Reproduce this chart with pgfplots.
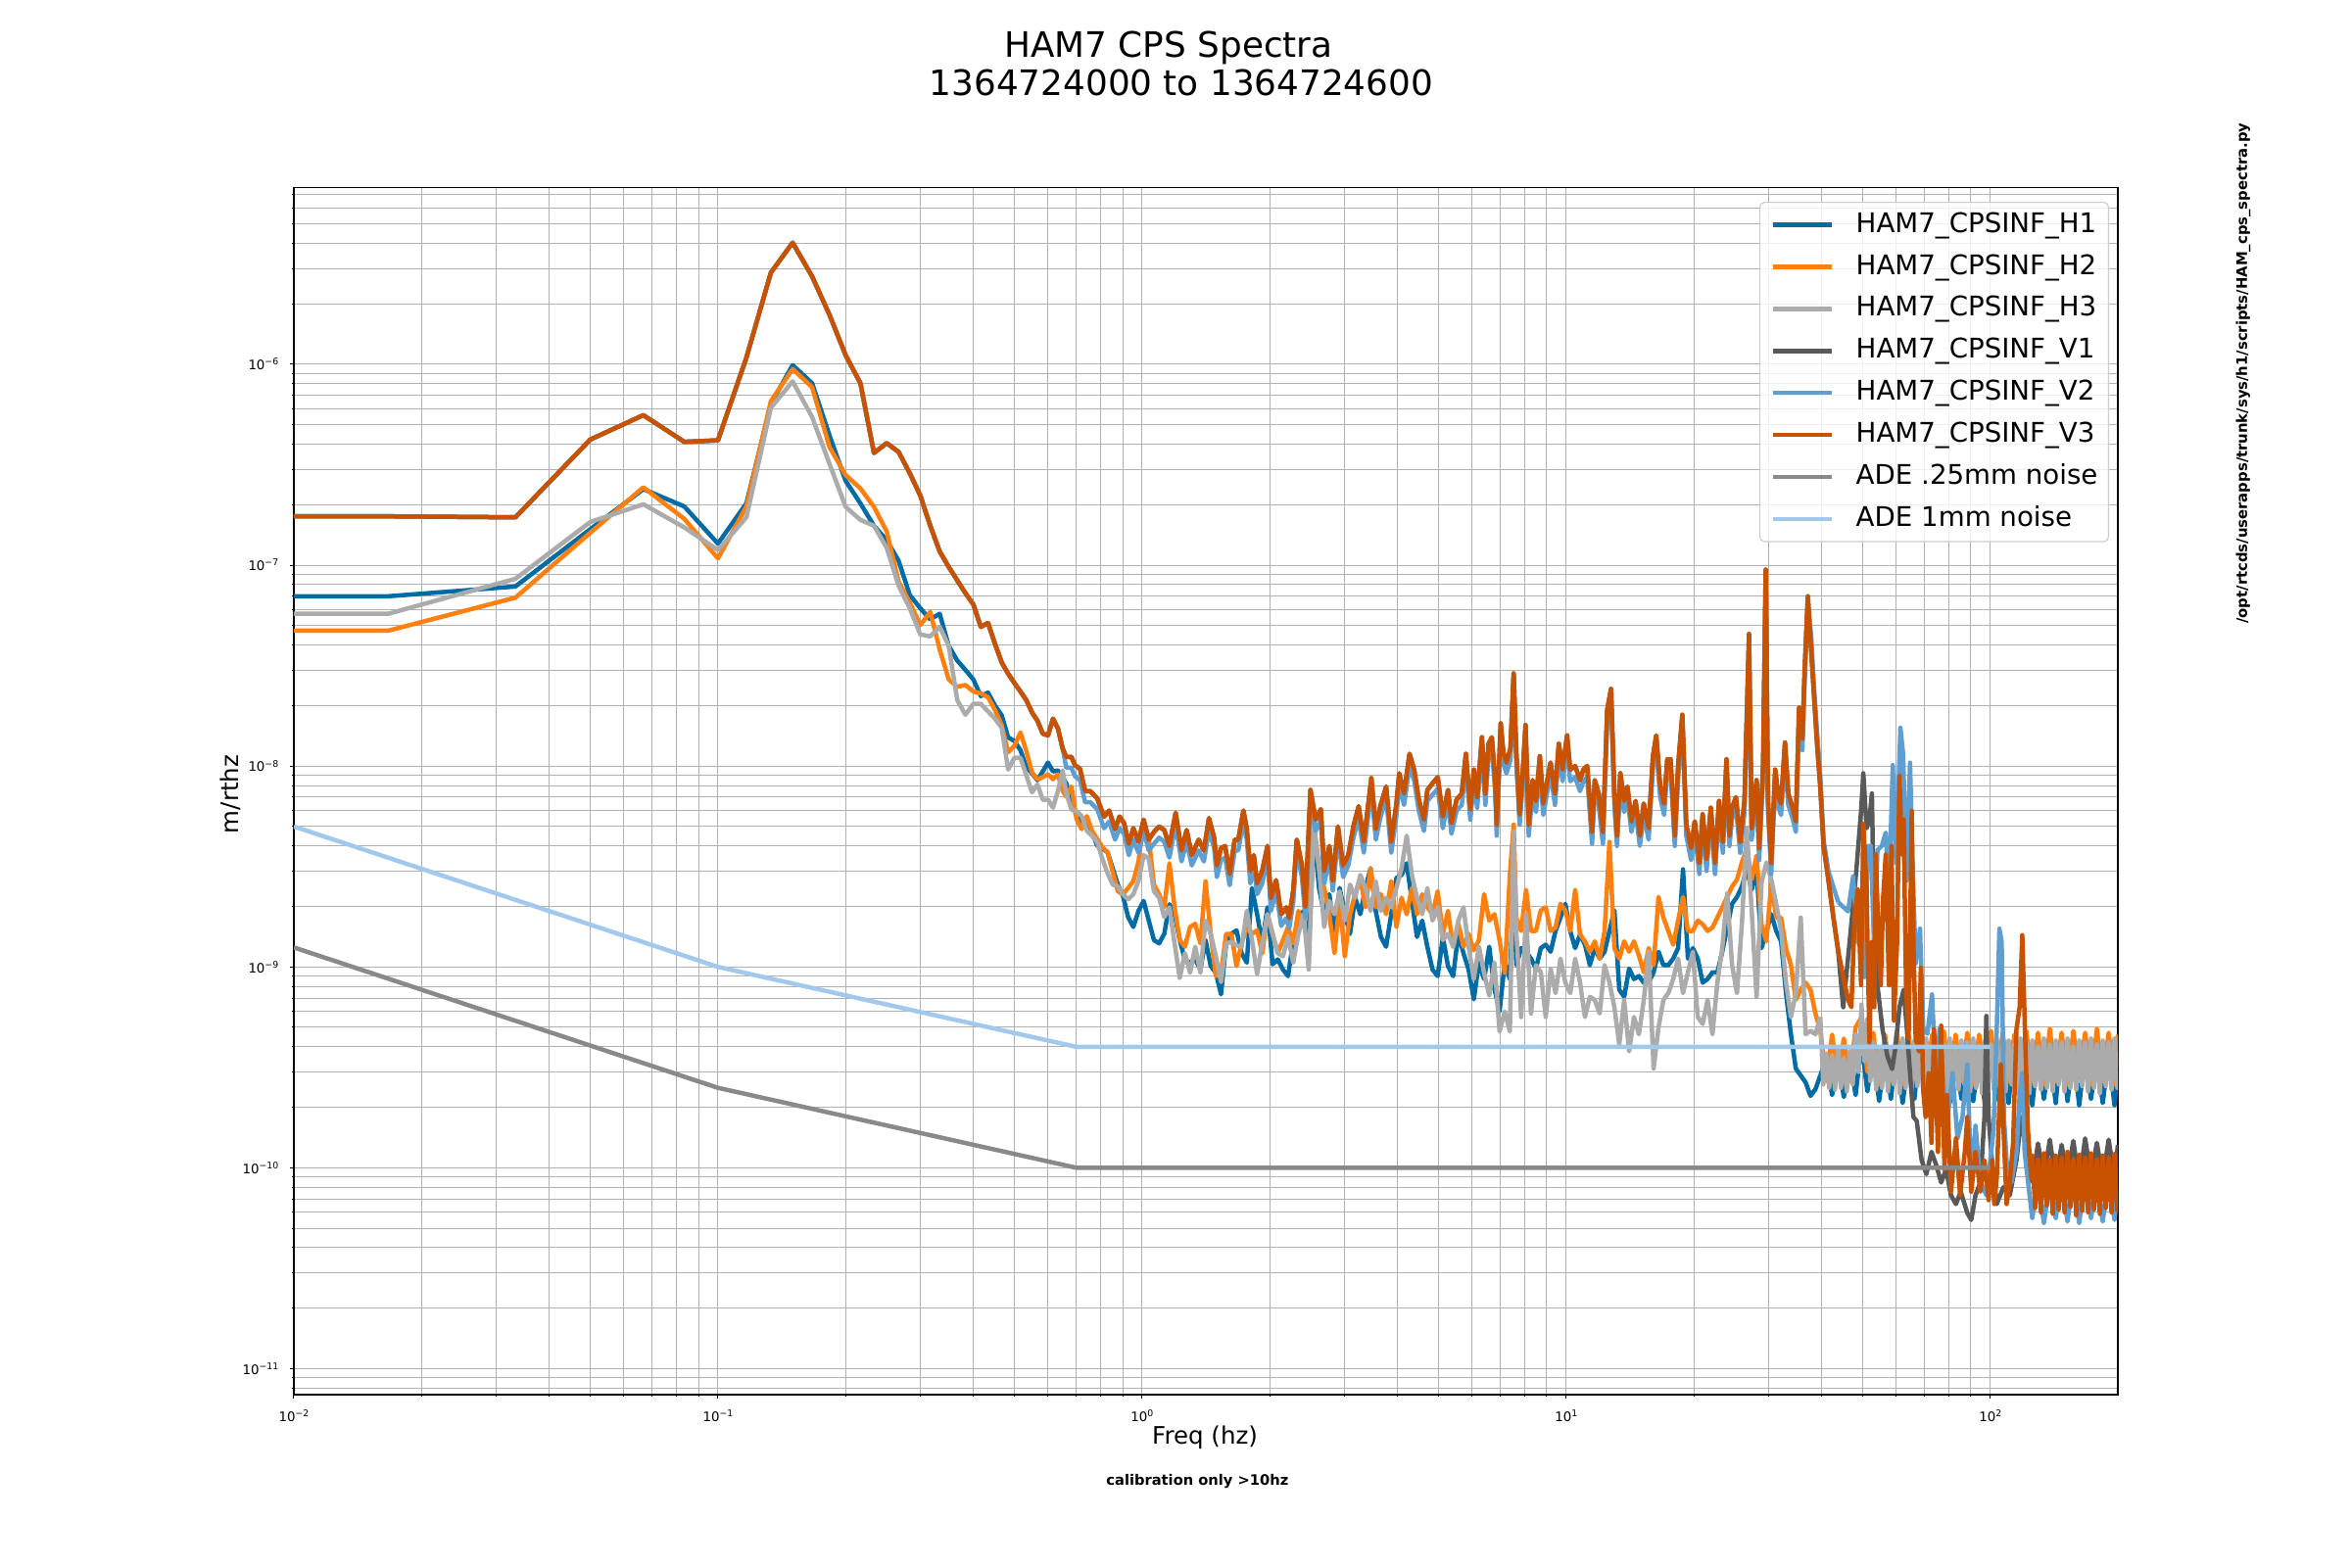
\documentclass[border=0pt]{standalone}
\usepackage{fontspec}
\setmainfont{DejaVu Sans}
\usepackage{pgfplots}
\usepackage{pgfplotstable}
\pgfplotsset{compat=1.18}
\definecolor{cHa}{HTML}{006BA4}
\definecolor{cHb}{HTML}{FF800E}
\definecolor{cHc}{HTML}{ABABAB}
\definecolor{cVa}{HTML}{595959}
\definecolor{cVb}{HTML}{5F9ED1}
\definecolor{cVc}{HTML}{C85200}
\definecolor{cAa}{HTML}{898989}
\definecolor{cAb}{HTML}{A2C8EC}
\definecolor{gridc}{HTML}{B0B0B0}
\definecolor{legc}{HTML}{CCCCCC}
\newcommand\explabel[1]{10\raisebox{1.45pt}{\fontsize{2.8}{3}\selectfont\ifnum#1<0 −\the\numexpr0-#1\relax\else\the\numexpr#1\relax\fi}}

% H1 H2 H3 (a b c), 0.01 - 39.75 Hz
\pgfplotstableread[row sep=\\]{
f a b c\\
0.01 7.0e-8 4.72e-8 5.73e-8\\ 0.0167 7.0e-8 4.72e-8 5.73e-8\\ 0.0333 7.83e-8 6.89e-8 8.55e-8\\ 0.05 1.51e-7 1.45e-7 1.64e-7\\
0.0667 2.39e-7 2.44e-7 2.01e-7\\ 0.0833 1.96e-7 1.70e-7 1.54e-7\\ 0.1 1.28e-7 1.08e-7 1.19e-7\\ 0.1167 2.03e-7 1.96e-7 1.73e-7\\
0.1333 6.35e-7 6.55e-7 6.08e-7\\ 0.15 9.9e-7 9.47e-7 8.22e-7\\ 0.1667 8.05e-7 7.7e-7 5.47e-7\\ 0.1833 4.41e-7 3.87e-7 3.19e-7\\
0.2 2.63e-7 2.81e-7 1.95e-7\\ 0.2167 2.03e-7 2.41e-7 1.68e-7\\ 0.2333 1.57e-7 1.95e-7 1.57e-7\\ 0.25 1.33e-7 1.47e-7 1.22e-7\\
0.2667 1.05e-7 8.26e-8 7.9e-8\\ 0.2833 7.1e-8 6.52e-8 6.1e-8\\ 0.3 6.1e-8 5.03e-8 4.52e-8\\ 0.3167 5.37e-8 5.85e-8 4.42e-8\\
0.3333 5.73e-8 3.81e-8 4.93e-8\\ 0.35 3.97e-8 2.70e-8 3.97e-8\\ 0.3667 3.35e-8 2.48e-8 2.13e-8\\ 0.3833 3.01e-8 2.53e-8 1.80e-8\\
0.4 2.70e-8 2.35e-8 2.04e-8\\ 0.4167 2.23e-8 2.3e-8 2.04e-8\\ 0.4333 2.32e-8 2.2e-8 1.87e-8\\ 0.45 2.0e-8 1.9e-8 1.72e-8\\
0.4667 1.79e-8 1.6e-8 1.55e-8\\ 0.4833 1.39e-8 1.17e-8 9.6e-9\\ 0.5 1.33e-8 1.26e-8 1.10e-8\\ 0.5167 1.2e-8 1.47e-8 1.1e-8\\
0.5333 9.9e-9 1.19e-8 9.0e-9\\ 0.55 9.2e-9 9.3e-9 7.4e-9\\ 0.5667 8.5e-9 8.6e-9 8.1e-9\\ 0.5833 9.4e-9 8.8e-9 6.8e-9\\
0.6 1.04e-8 9.1e-9 6.8e-9\\ 0.6167 9.4e-9 8.6e-9 6.2e-9\\ 0.6333 9.5e-9 9.1e-9 7.5e-9\\ 0.65 8.8e-9 7.5e-9 9.5e-9\\
0.6627 8.19e-9 7.05e-9 7.32e-9\\ 0.6815 6.8e-9 7.9e-9 6.07e-9\\ 0.7008 5.63e-9 5.43e-9 5.96e-9\\ 0.7207 5.23e-9 4.85e-9 5.63e-9\\
0.7412 5.04e-9 5.63e-9 4.76e-9\\ 0.7622 4.67e-9 4.76e-9 4.5e-9\\ 0.7838 4.02e-9 4.34e-9 4.18e-9\\ 0.806 3.88e-9 3.95e-9 3.46e-9\\
0.8289 3.73e-9 3.73e-9 2.93e-9\\ 0.8525 3.1e-9 2.98e-9 2.57e-9\\ 0.8768 2.57e-9 2.38e-9 2.52e-9\\ 0.9017 2.25e-9 2.3e-9 2.3e-9\\
0.9273 1.77e-9 2.47e-9 2.17e-9\\ 0.9537 1.58e-9 2.67e-9 2.3e-9\\ 0.9808 1.9e-9 3.34e-9 2.67e-9\\ 1.0086 2.13e-9 5.23e-9 3.6e-9\\
1.0373 1.7e-9 4.34e-9 3.46e-9\\ 1.0667 1.36e-9 2.57e-9 2.38e-9\\ 1.097 1.31e-9 2.3e-9 2.21e-9\\ 1.1282 1.46e-9 1.98e-9 1.77e-9\\
1.1602 2.05e-9 3.28e-9 1.98e-9\\ 1.1932 1.83e-9 1.98e-9 1.31e-9\\ 1.2271 1.36e-9 1.36e-9 8.8e-10\\ 1.2619 1.09e-9 1.26e-9 1.17e-9\\
1.2978 1.05e-9 1.58e-9 9.35e-10\\ 1.3346 1.09e-9 1.64e-9 1.26e-9\\ 1.3726 9.7e-10 1.31e-9 9.35e-10\\ 1.4115 1.36e-9 2.67e-9 1.7e-9\\
1.4516 1.01e-9 1.46e-9 1.46e-9\\ 1.4929 9.35e-10 9.0e-10 1.13e-9\\ 1.5353 7.3e-10 9.35e-10 8.4e-10\\ 1.5789 1.31e-9 1.46e-9 1.31e-9\\
1.6238 1.46e-9 1.46e-9 1.33e-9\\ 1.6699 1.52e-9 1.01e-9 1.28e-9\\ 1.7173 1.17e-9 1.31e-9 1.26e-9\\ 1.7661 1.05e-9 1.58e-9 1.9e-9\\
1.8162 2.47e-9 1.46e-9 1.36e-9\\ 1.8678 1.83e-9 1.52e-9 9.2e-10\\ 1.9209 1.31e-9 1.17e-9 1.31e-9\\ 1.9754 1.98e-9 1.83e-9 1.83e-9\\
2.0316 1.03e-9 1.46e-9 1.46e-9\\ 2.0893 1.09e-9 1.17e-9 1.17e-9\\ 2.1486 9.7e-10 1.36e-9 1.13e-9\\ 2.2097 9.0e-10 1.58e-9 1.41e-9\\
2.2724 1.36e-9 1.31e-9 1.05e-9\\ 2.337 1.7e-9 1.9e-9 1.46e-9\\ 2.4033 1.9e-9 1.58e-9 1.83e-9\\ 2.4716 1.26e-9 2.21e-9 9.7e-10\\
2.5418 4.67e-9 5.23e-9 5.04e-9\\ 2.614 2.47e-9 3.1e-9 3.1e-9\\ 2.6882 1.83e-9 2.47e-9 1.58e-9\\ 2.7646 2.3e-9 1.83e-9 2.13e-9\\
2.8431 1.46e-9 1.17e-9 1.83e-9\\ 2.9239 2.47e-9 2.13e-9 2.38e-9\\ 3.0069 1.83e-9 1.13e-9 1.7e-9\\ 3.0923 1.46e-9 1.83e-9 2.57e-9\\
3.1801 2.21e-9 2.3e-9 2.21e-9\\ 3.2704 1.83e-9 2.77e-9 2.87e-9\\ 3.3633 2.47e-9 1.98e-9 2.47e-9\\ 3.4589 3.1e-9 3.1e-9 1.9e-9\\
3.5571 1.9e-9 1.98e-9 2.67e-9\\ 3.6581 1.41e-9 2.3e-9 1.9e-9\\ 3.7621 1.26e-9 1.83e-9 2.21e-9\\ 3.8689 1.83e-9 2.67e-9 1.98e-9\\
3.9788 2.77e-9 1.58e-9 2.47e-9\\ 4.0918 2.87e-9 2.21e-9 3.1e-9\\ 4.208 3.28e-9 1.83e-9 4.5e-9\\ 4.3275 2.13e-9 2.47e-9 2.87e-9\\
4.4504 1.41e-9 1.83e-9 2.21e-9\\ 4.5768 1.7e-9 2.3e-9 1.83e-9\\ 4.7068 1.26e-9 1.98e-9 2.47e-9\\ 4.8405 9.7e-10 1.83e-9 1.7e-9\\
4.978 9.0e-10 2.38e-9 1.98e-9\\ 5.1194 1.41e-9 1.46e-9 1.36e-9\\ 5.2648 1.01e-9 1.9e-9 1.46e-9\\ 5.4143 9.0e-10 1.26e-9 1.26e-9\\
5.5681 1.46e-9 1.64e-9 1.7e-9\\ 5.7262 1.17e-9 1.26e-9 1.98e-9\\ 5.8889 9.7e-10 1.46e-9 1.26e-9\\ 6.0561 6.9e-10 1.21e-9 8.7e-10\\
6.2281 1.05e-9 1.36e-9 1.26e-9\\ 6.405 8.7e-10 2.3e-9 9.35e-10\\ 6.5869 1.26e-9 1.7e-9 7.2e-10\\ 6.774 7.8e-10 1.83e-9 1.05e-9\\
6.9664 6.0e-10 1.36e-9 4.77e-10\\ 7.1642 1.05e-9 9.35e-10 6.0e-10\\ 7.3677 8.7e-10 2.87e-9 4.77e-10\\ 7.52 2.72e-9 5.11e-9 4.72e-9\\
7.63 1.02e-9 1.76e-9 1.51e-9\\ 7.834 1.24e-9 1.51e-9 5.63e-10\\ 8.045 1.19e-9 2.42e-9 1.83e-9\\ 8.262 1.10e-9 1.51e-9 5.86e-10\\
8.486 9.8e-10 1.51e-9 1.02e-9\\ 8.715 1.24e-9 1.91e-9 9.4e-10\\ 8.95 1.29e-9 1.98e-9 5.63e-10\\ 9.192 1.19e-9 1.51e-9 9.8e-10\\
9.44 1.51e-9 1.57e-9 7.4e-10\\ 9.695 1.76e-9 2.06e-9 1.10e-9\\ 9.957 2.06e-9 1.91e-9 8.35e-10\\ 10.225 1.51e-9 1.51e-9 7.4e-10\\
10.501 1.24e-9 2.42e-9 1.10e-9\\ 10.784 1.45e-9 1.45e-9 8.35e-10\\ 11.075 1.29e-9 1.34e-9 5.63e-10\\ 11.374 1.02e-9 1.19e-9 7.1e-10\\
11.681 1.24e-9 1.34e-9 6.85e-10\\ 11.996 1.10e-9 1.10e-9 5.86e-10\\ 12.32 1.19e-9 1.51e-9 1.02e-9\\ 12.652 1.51e-9 4.19e-9 8.35e-10\\
12.994 1.91e-9 1.24e-9 6.3e-10\\ 13.344 7.7e-10 1.10e-9 4.11e-10\\ 13.704 7.1e-10 1.34e-9 6.85e-10\\ 14.074 9.8e-10 1.19e-9 3.8e-10\\
14.454 8.7e-10 1.34e-9 5.63e-10\\ 14.844 9.0e-10 1.14e-9 4.62e-10\\ 15.244 8.35e-10 9.4e-10 6.85e-10\\ 15.656 8.35e-10 1.24e-9 1.19e-9\\
16.078 9.4e-10 1.02e-9 3.12e-10\\ 16.512 1.19e-9 2.23e-9 5.0e-10\\ 16.957 1.02e-9 1.76e-9 6.85e-10\\ 17.415 1.02e-9 1.51e-9 7.4e-10\\
17.885 1.10e-9 1.29e-9 8.7e-10\\ 18.367 1.24e-9 1.70e-9 1.10e-9\\ 18.863 3.06e-9 2.23e-9 7.4e-10\\ 19.372 1.10e-9 1.51e-9 9.4e-10\\
19.894 1.24e-9 1.51e-9 1.19e-9\\ 20.431 1.10e-9 1.70e-9 5.63e-10\\ 20.983 8.35e-10 1.63e-9 5.2e-10\\ 21.549 8.7e-10 1.51e-9 6.85e-10\\
22.13 9.4e-10 1.57e-9 4.62e-10\\ 22.727 9.4e-10 1.76e-9 8.35e-10\\ 23.34 1.19e-9 1.98e-9 1.24e-9\\ 23.97 1.57e-9 2.23e-9 2.32e-9\\
24.617 2.06e-9 2.51e-9 1.02e-9\\ 25.281 2.23e-9 2.72e-9 7.4e-10\\ 25.963 2.51e-9 3.31e-9 1.63e-9\\ 26.664 3.06e-9 3.88e-9 4.91e-9\\
27.383 2.42e-9 2.72e-9 1.91e-9\\ 28.122 3.06e-9 3.58e-9 7.1e-10\\ 28.881 1.24e-9 1.63e-9 2.62e-9\\ 29.66 1.51e-9 1.34e-9 3.31e-9\\
30.461 1.83e-9 2.62e-9 2.72e-9\\ 31.283 1.51e-9 1.76e-9 2.06e-9\\ 32.127 1.34e-9 1.76e-9 1.51e-9\\ 32.994 7.4e-10 1.24e-9 8.35e-10\\
33.884 4.62e-10 1.02e-9 5.63e-10\\ 34.798 3.12e-10 6.85e-10 7.4e-10\\ 35.737 2.88e-10 7.7e-10 1.76e-9\\ 36.702 2.66e-10 8.35e-10 4.62e-10\\
37.692 2.28e-10 7.7e-10 4.81e-10\\ 38.709 2.46e-10 5.86e-10 4.62e-10\\ 39.754 2.88e-10 4.81e-10 5.63e-10\\
}\Hmain

% H1, 39.75 - 200 Hz
\pgfplotstableread[row sep=\\]{
f v\\
39.754 2.88e-10\\ 41.04 3.5e-10\\ 42.37 2.3e-10\\ 43.75 3.4e-10\\ 45.16 2.25e-10\\ 46.63 3.6e-10\\ 48.14 2.3e-10\\ 49.70 4.2e-10\\
51.32 2.4e-10\\ 52.98 3.8e-10\\ 54.70 2.15e-10\\ 56.47 3.7e-10\\ 58.30 2.2e-10\\ 60.20 3.9e-10\\ 62.15 2.1e-10\\ 64.17 3.6e-10\\
66.25 2.2e-10\\ 68.40 4.4e-10\\ 70.62 2.15e-10\\ 72.91 3.7e-10\\ 75.28 2.2e-10\\ 77.72 3.8e-10\\ 80.24 2.1e-10\\ 82.84 3.6e-10\\
85.53 2.2e-10\\ 88.31 4.5e-10\\ 91.17 2.15e-10\\ 94.13 3.7e-10\\ 97.18 2.05e-10\\ 100.39 3.8e-10\\ 103.6 2.2e-10\\ 107.0 3.6e-10\\
110.5 2.1e-10\\ 114.0 4.4e-10\\ 117.8 2.15e-10\\ 121.6 3.7e-10\\ 125.6 2.05e-10\\ 129.6 3.8e-10\\ 133.8 2.2e-10\\ 138.2 3.6e-10\\
142.7 2.1e-10\\ 147.3 4.5e-10\\ 152.1 2.15e-10\\ 157.0 3.7e-10\\ 162.1 2.05e-10\\ 167.4 3.8e-10\\ 172.8 2.2e-10\\ 178.4 3.6e-10\\
184.2 2.1e-10\\ 190.2 3.7e-10\\ 196.3 2.05e-10\\ 200 3.0e-10\\
}\Haband

% H2, 39.75 - 200 Hz
\pgfplotstableread[row sep=\\]{
f v\\
39.754 4.81e-10\\ 41.04 2.7e-10\\ 42.37 4.6e-10\\ 43.75 2.8e-10\\ 45.16 4.4e-10\\ 46.63 2.7e-10\\ 48.14 5.0e-10\\ 49.70 5.6e-10\\
51.32 3.0e-10\\ 52.98 4.7e-10\\ 54.70 2.6e-10\\ 56.47 4.6e-10\\ 58.30 2.7e-10\\ 60.20 4.8e-10\\ 62.15 2.6e-10\\ 64.17 4.6e-10\\
66.25 2.8e-10\\ 68.40 4.7e-10\\ 70.62 2.5e-10\\ 72.91 4.6e-10\\ 75.28 2.7e-10\\ 77.72 4.8e-10\\ 80.24 2.6e-10\\ 82.84 4.6e-10\\
85.53 2.7e-10\\ 88.31 4.7e-10\\ 91.17 2.6e-10\\ 94.13 4.6e-10\\ 97.18 2.8e-10\\ 100.39 4.8e-10\\ 103.6 2.6e-10\\ 107.0 4.7e-10\\
110.5 2.7e-10\\ 114.0 4.6e-10\\ 117.8 2.6e-10\\ 121.6 4.8e-10\\ 125.6 2.7e-10\\ 129.6 4.7e-10\\ 133.8 2.6e-10\\ 138.2 4.9e-10\\
142.7 2.7e-10\\ 147.3 4.7e-10\\ 152.1 2.6e-10\\ 157.0 4.8e-10\\ 162.1 2.8e-10\\ 167.4 4.7e-10\\ 172.8 2.6e-10\\ 178.4 4.9e-10\\
184.2 2.7e-10\\ 190.2 4.7e-10\\ 196.3 2.6e-10\\ 200 4.6e-10\\
}\Hbband

% H3, 39.75 - 200 Hz
\pgfplotstableread[row sep=\\]{
f v\\
39.754 5.63e-10\\ 40.39 2.6e-10\\ 41.04 3.7e-10\\ 41.70 2.5e-10\\ 42.37 3.6e-10\\ 43.05 2.45e-10\\ 43.75 3.9e-10\\ 44.45 2.5e-10\\
45.16 3.5e-10\\ 45.89 2.4e-10\\ 46.63 3.8e-10\\ 47.38 2.6e-10\\ 48.14 4.6e-10\\ 48.92 3.0e-10\\ 49.70 6.5e-10\\ 50.50 3.4e-10\\
51.32 5.5e-10\\ 52.14 2.7e-10\\ 52.98 4.2e-10\\ 53.83 2.45e-10\\ 54.70 4.0e-10\\ 55.58 2.5e-10\\ 56.47 4.3e-10\\ 57.38 2.4e-10\\
58.30 3.9e-10\\ 59.24 2.6e-10\\ 60.20 4.2e-10\\ 61.16 2.35e-10\\ 62.15 4.4e-10\\ 63.15 2.5e-10\\ 64.17 4.0e-10\\ 65.20 2.4e-10\\
66.25 4.3e-10\\ 67.31 2.55e-10\\ 68.40 4.1e-10\\ 69.50 2.4e-10\\ 70.62 4.4e-10\\ 71.75 2.5e-10\\ 72.91 4.0e-10\\ 74.08 2.35e-10\\
75.28 4.3e-10\\ 76.49 2.55e-10\\ 77.72 4.1e-10\\ 78.97 2.4e-10\\ 80.24 4.4e-10\\ 81.53 2.5e-10\\ 82.84 4.0e-10\\ 84.18 2.45e-10\\
85.53 4.3e-10\\ 86.91 2.6e-10\\ 88.31 4.2e-10\\ 89.73 2.4e-10\\ 91.17 4.4e-10\\ 92.64 2.5e-10\\ 94.13 4.0e-10\\ 95.64 2.35e-10\\
97.18 4.3e-10\\ 98.80 2.55e-10\\ 100.39 4.1e-10\\ 102.0 2.45e-10\\ 103.6 4.4e-10\\ 105.3 2.5e-10\\ 107.0 4.0e-10\\ 108.7 2.4e-10\\
110.5 4.3e-10\\ 112.3 2.6e-10\\ 114.0 4.1e-10\\ 115.9 2.4e-10\\ 117.8 4.4e-10\\ 119.7 2.5e-10\\ 121.6 4.2e-10\\ 123.6 2.35e-10\\
125.6 4.3e-10\\ 127.6 2.55e-10\\ 129.6 4.0e-10\\ 131.7 2.45e-10\\ 133.8 4.4e-10\\ 136.0 2.5e-10\\ 138.2 4.1e-10\\ 140.4 2.4e-10\\
142.7 4.3e-10\\ 145.0 2.6e-10\\ 147.3 4.2e-10\\ 149.7 2.4e-10\\ 152.1 4.4e-10\\ 154.5 2.5e-10\\ 157.0 4.0e-10\\ 159.5 2.45e-10\\
162.1 4.3e-10\\ 164.7 2.55e-10\\ 167.4 4.2e-10\\ 170.1 2.4e-10\\ 172.8 4.4e-10\\ 175.6 2.5e-10\\ 178.4 4.1e-10\\ 181.3 2.35e-10\\
184.2 4.3e-10\\ 187.2 2.55e-10\\ 190.2 4.2e-10\\ 193.2 2.45e-10\\ 196.3 4.4e-10\\ 199.5 2.5e-10\\ 200 3.8e-10\\
}\Hcband

% V2 (b) and V3 (c), 0.01 - 43.8 Hz; V1 coincides with V3 here
\pgfplotstableread[row sep=\\]{
f b c\\
0.01 1.75e-7 1.75e-7\\ 0.0167 1.75e-7 1.75e-7\\ 0.0333 1.73e-7 1.73e-7\\ 0.05 4.22e-7 4.22e-7\\ 0.0667 5.58e-7 5.58e-7\\
0.0833 4.11e-7 4.11e-7\\ 0.1 4.18e-7 4.18e-7\\ 0.1167 1.08e-6 1.08e-6\\ 0.1333 2.86e-6 2.86e-6\\ 0.15 4.03e-6 4.03e-6\\
0.1667 2.74e-6 2.74e-6\\ 0.1833 1.76e-6 1.76e-6\\ 0.2 1.11e-6 1.11e-6\\ 0.2167 8.05e-7 8.05e-7\\ 0.2333 3.62e-7 3.62e-7\\
0.25 4.05e-7 4.05e-7\\ 0.2667 3.66e-7 3.66e-7\\ 0.2833 2.87e-7 2.87e-7\\ 0.3 2.22e-7 2.22e-7\\ 0.3167 1.57e-7 1.57e-7\\
0.3333 1.17e-7 1.17e-7\\ 0.35 9.8e-8 9.8e-8\\ 0.3667 8.4e-8 8.4e-8\\ 0.3833 7.26e-8 7.26e-8\\ 0.4 6.38e-8 6.38e-8\\
0.4167 4.93e-8 4.93e-8\\ 0.4333 5.15e-8 5.15e-8\\ 0.45 4.06e-8 4.06e-8\\ 0.4667 3.28e-8 3.28e-8\\ 0.4833 2.88e-8 2.88e-8\\
0.5 2.59e-8 2.59e-8\\ 0.5167 2.35e-8 2.35e-8\\ 0.5333 2.13e-8 2.13e-8\\ 0.55 1.85e-8 1.85e-8\\ 0.5667 1.68e-8 1.68e-8\\
0.5833 1.45e-8 1.45e-8\\ 0.6 1.42e-8 1.42e-8\\ 0.6167 1.72e-8 1.72e-8\\ 0.6333 1.54e-8 1.54e-8\\ 0.65 1.22e-8 1.22e-8\\
0.6626 9.8e-9 1.11e-8\\ 0.6816 9.8e-9 1.11e-8\\ 0.6945 8.9e-9 1.01e-8\\ 0.7139 8.5e-9 9.7e-9\\ 0.7342 6.6e-9 7.5e-9\\
0.7551 6.6e-9 7.5e-9\\ 0.784 6.1e-9 6.9e-9\\ 0.8136 4.9e-9 5.6e-9\\ 0.8368 5.3e-9 6.0e-9\\ 0.8638 4.3e-9 4.85e-9\\
0.885 4.9e-9 5.6e-9\\ 0.9068 4.6e-9 5.2e-9\\ 0.9308 3.6e-9 4.1e-9\\ 0.9537 4.3e-9 4.9e-9\\ 0.9808 3.7e-9 4.2e-9\\
1.0086 4.75e-9 5.4e-9\\ 1.037 3.8e-9 4.3e-9\\ 1.067 4.1e-9 4.7e-9\\ 1.097 4.4e-9 5.0e-9\\ 1.128 4.2e-9 4.8e-9\\
1.16 3.5e-9 4.0e-9\\ 1.2 5.1e-9 5.85e-9\\ 1.239 3.35e-9 3.8e-9\\ 1.274 4.2e-9 4.8e-9\\ 1.31 3.2e-9 3.6e-9\\
1.36 3.8e-9 4.3e-9\\ 1.399 3.35e-9 3.8e-9\\ 1.438 4.8e-9 5.5e-9\\ 1.479 3.9e-9 4.4e-9\\ 1.501 2.8e-9 3.2e-9\\
1.535 3.4e-9 3.9e-9\\ 1.57 3.5e-9 4.0e-9\\ 1.609 2.55e-9 2.9e-9\\ 1.654 3.8e-9 4.3e-9\\ 1.686 3.8e-9 4.3e-9\\
1.734 5.3e-9 6.0e-9\\ 1.766 4.3e-9 4.85e-9\\ 1.8 2.6e-9 3.0e-9\\ 1.834 3.2e-9 3.6e-9\\ 1.868 2.3e-9 2.6e-9\\
1.92 2.6e-9 3.0e-9\\ 1.976 3.5e-9 4.0e-9\\ 2.013 1.9e-9 2.2e-9\\ 2.07 2.4e-9 2.7e-9\\ 2.129 1.6e-9 1.83e-9\\
2.189 1.75e-9 1.98e-9\\ 2.223 1.55e-9 1.75e-9\\ 2.273 2.1e-9 2.4e-9\\ 2.316 3.8e-9 4.3e-9\\ 2.382 2.8e-9 3.2e-9\\
2.427 1.75e-9 2.0e-9\\ 2.495 6.7e-9 7.6e-9\\ 2.566 4.75e-9 5.4e-9\\ 2.639 5.4e-9 6.1e-9\\ 2.689 2.6e-9 3.0e-9\\
2.765 3.5e-9 4.0e-9\\ 2.817 2.4e-9 2.7e-9\\ 2.897 4.4e-9 5.0e-9\\ 2.979 2.8e-9 3.2e-9\\ 3.064 3.2e-9 3.6e-9\\
3.151 4.4e-9 5.0e-9\\ 3.241 5.5e-9 6.3e-9\\ 3.333 3.7e-9 4.2e-9\\ 3.396 5.1e-9 5.85e-9\\ 3.473 7.7e-9 8.7e-9\\
3.558 4.3e-9 4.85e-9\\ 3.646 5.5e-9 6.3e-9\\ 3.763 7.0e-9 7.9e-9\\ 3.87 3.7e-9 4.2e-9\\ 3.98 5.7e-9 6.5e-9\\
4.04 8.1e-9 9.2e-9\\ 4.147 6.4e-9 7.3e-9\\ 4.273 1.0e-8 1.15e-8\\ 4.385 8.4e-9 9.5e-9\\ 4.493 6.0e-9 6.8e-9\\
4.62 4.75e-9 5.4e-9\\ 4.708 6.7e-9 7.6e-9\\ 4.842 7.2e-9 8.2e-9\\ 4.979 7.7e-9 8.8e-9\\ 5.12 4.9e-9 5.6e-9\\
5.266 6.7e-9 7.6e-9\\ 5.365 4.6e-9 5.2e-9\\ 5.517 6.0e-9 6.8e-9\\ 5.673 6.4e-9 7.3e-9\\ 5.802 1.0e-8 1.15e-8\\
5.944 5.4e-9 6.1e-9\\ 6.06 8.4e-9 9.6e-9\\ 6.17 6.2e-9 7.0e-9\\ 6.33 1.22e-8 1.39e-8\\ 6.45 6.4e-9 7.3e-9\\
6.56 1.14e-8 1.29e-8\\ 6.68 1.22e-8 1.39e-8\\ 6.8 7.5e-9 8.5e-9\\ 6.86 4.5e-9 5.1e-9\\ 7.01 1.43e-8 1.63e-8\\
7.11 1.03e-8 1.17e-8\\ 7.23 9.2e-9 1.04e-8\\ 7.39 1.07e-8 1.22e-8\\ 7.52 2.54e-8 2.89e-8\\ 7.63 1.03e-8 1.17e-8\\
7.77 5.1e-9 5.75e-9\\ 7.9 8.1e-9 9.2e-9\\ 8.02 1.41e-8 1.6e-8\\ 8.16 4.5e-9 5.1e-9\\ 8.34 7.5e-9 8.5e-9\\
8.49 5.9e-9 6.7e-9\\ 8.67 9.9e-9 1.12e-8\\ 8.83 5.7e-9 6.5e-9\\ 9.03 7.5e-9 8.5e-9\\ 9.19 9.2e-9 1.04e-8\\
9.41 6.4e-9 7.3e-9\\ 9.61 1.14e-8 1.29e-8\\ 9.81 8.4e-9 9.6e-9\\ 10.05 1.25e-8 1.42e-8\\ 10.22 8.4e-9 9.6e-9\\
10.5 8.8e-9 1.0e-8\\ 10.78 7.5e-9 8.5e-9\\ 10.98 8.4e-9 9.6e-9\\ 11.21 8.8e-9 1.0e-8\\ 11.51 4.1e-9 4.7e-9\\
11.68 7.5e-9 8.5e-9\\ 11.93 6.4e-9 7.3e-9\\ 12.21 4.1e-9 4.7e-9\\ 12.5 1.68e-8 1.91e-8\\ 12.76 2.13e-8 2.42e-8\\
12.99 6.4e-9 7.3e-9\\ 13.18 4.0e-9 4.5e-9\\ 13.42 8.1e-9 9.2e-9\\ 13.7 5.9e-9 6.7e-9\\ 13.95 7.0e-9 7.9e-9\\
14.25 4.7e-9 5.3e-9\\ 14.58 5.9e-9 6.7e-9\\ 14.92 4.0e-9 4.5e-9\\ 15.24 5.7e-9 6.5e-9\\ 15.65 4.3e-9 4.9e-9\\
16.02 9.9e-9 1.12e-8\\ 16.31 1.25e-8 1.42e-8\\ 16.66 7.0e-9 7.9e-9\\ 17.02 5.7e-9 6.5e-9\\ 17.32 9.5e-9 1.08e-8\\
17.63 9.5e-9 1.08e-8\\ 18.04 4.0e-9 4.5e-9\\ 18.37 8.8e-9 1.0e-8\\ 18.79 1.58e-8 1.8e-8\\ 19.2 4.5e-9 5.1e-9\\
19.71 3.4e-9 3.9e-9\\ 20.1 4.7e-9 5.3e-9\\ 20.61 2.9e-9 3.3e-9\\ 20.98 5.1e-9 5.75e-9\\ 21.43 3.0e-9 3.45e-9\\
21.93 5.5e-9 6.2e-9\\ 22.44 2.9e-9 3.3e-9\\ 22.93 5.9e-9 6.7e-9\\ 23.42 3.7e-9 4.2e-9\\ 23.88 9.5e-9 1.08e-8\\
24.27 4.0e-9 4.5e-9\\ 24.61 5.5e-9 6.2e-9\\ 25.14 6.2e-9 7.0e-9\\ 25.73 3.7e-9 4.2e-9\\ 26.33 5.9e-9 6.7e-9\\
26.99 4.0e-8 4.54e-8\\ 27.38 4.3e-9 4.9e-9\\ 28.12 7.5e-9 8.5e-9\\ 28.52 3.4e-9 3.9e-9\\ 29.13 8.8e-9 1.0e-8\\
29.55 8.4e-8 9.5e-8\\ 29.92 5.9e-9 6.7e-9\\ 30.45 2.9e-9 3.3e-9\\ 31.11 8.4e-9 9.6e-9\\ 31.67 6.2e-9 7.0e-9\\
32.12 5.7e-9 6.5e-9\\ 32.81 1.15e-8 1.31e-8\\ 33.4 6.4e-9 7.3e-9\\ 34.19 5.5e-9 6.2e-9\\ 34.8 4.7e-9 5.3e-9\\
35.42 1.72e-8 1.95e-8\\ 36.06 1.2e-8 1.37e-8\\ 36.51 2.64e-8 3.0e-8\\ 37.15 6.2e-8 7.0e-8\\ 37.82 4.5e-8 3.8e-8\\
38.36 2.6e-8 2.37e-8\\ 39.04 1.5e-8 1.31e-8\\ 39.74 9.0e-9 7.9e-9\\ 40.46 4.3e-9 4.0e-9\\ 41.54 3.0e-9 2.7e-9\\
42.67 2.5e-9 1.77e-9\\ 43.82 2.1e-9 1.19e-9\\
}\Vmain

% V1, 43.8 - 200 Hz
\pgfplotstableread[row sep=\\]{
f v\\
43.82 1.19e-9\\ 45.0 6.3e-10\\ 46.6 1.33e-9\\ 48.3 2.97e-9\\ 49.6 5.98e-9\\ 50.2 9.2e-9\\ 51.1 4.9e-9\\ 51.9 5.42e-9\\
52.6 7.3e-9\\ 53.3 1.33e-9\\ 54.2 8.1e-10\\ 55.7 4.9e-10\\ 57.2 3.6e-10\\ 58.7 3.1e-10\\ 59.8 4.0e-10\\ 61.1 6.3e-10\\
62.5 7.7e-10\\ 63.6 4.9e-10\\ 64.7 2.96e-10\\ 65.9 1.79e-10\\ 67.1 1.71e-10\\ 68.9 1.09e-10\\ 70.7 9.3e-11\\ 72.7 1.2e-10\\
74.6 1.03e-10\\ 76.6 8.45e-11\\ 78.7 9.8e-11\\ 80.8 7.3e-11\\ 83.0 6.6e-11\\ 85.2 7.6e-11\\ 88.3 5.95e-11\\ 90.2 5.5e-11\\
92.3 7.3e-11\\ 94.8 8.45e-11\\ 96.9 1.79e-10\\ 97.9 5.7e-10\\ 99.1 1.79e-10\\ 100.9 1.09e-10\\ 103.6 6.6e-11\\ 107.4 8.0e-11\\
111.2 7.3e-11\\ 115.3 1.09e-10\\ 118.4 1.79e-10\\ 121.6 1.2e-10\\ 125.6 8.5e-11\\ 129.6 1.32e-10\\ 133.8 9e-11\\ 138.2 1.38e-10\\
142.7 8.5e-11\\ 147.3 1.3e-10\\ 152.1 9e-11\\ 157.0 1.36e-10\\ 162.1 8.5e-11\\ 167.4 1.4e-10\\ 172.8 9e-11\\ 178.4 1.33e-10\\
184.2 8.8e-11\\ 190.2 1.38e-10\\ 196.3 9e-11\\ 200 1.3e-10\\
}\Vaband

% V2, 43.8 - 200 Hz
\pgfplotstableread[row sep=\\]{
f v\\
43.82 2.1e-9\\ 45.0 1.99e-9\\ 46.2 1.89e-9\\ 47.5 2.82e-9\\ 48.7 1.33e-9\\ 49.6 1.99e-9\\ 50.5 8.9e-10\\ 51.4 4.0e-9\\
52.3 4.0e-9\\ 53.3 1.15e-9\\ 54.2 3.81e-9\\ 55.5 4.0e-9\\ 56.7 4.66e-9\\ 57.7 2.2e-9\\ 58.9 1.01e-8\\ 60.0 3.28e-9\\
61.4 1.55e-8\\ 62.3 1.15e-8\\ 63.5 2.69e-9\\ 64.7 1.04e-8\\ 65.5 3.63e-9\\ 66.7 1.04e-9\\ 68.3 1.55e-9\\ 69.5 4.9e-10\\
71.1 4.65e-10\\ 72.9 7.3e-10\\ 74.6 2.55e-10\\ 75.9 4.9e-10\\ 78.0 2.19e-10\\ 79.4 1.79e-10\\ 81.5 2.96e-10\\ 83.7 1.4e-10\\
86.0 1.79e-10\\ 88.3 3.27e-10\\ 90.2 8.45e-11\\ 92.3 1.62e-10\\ 94.8 8.45e-11\\ 98.0 7.3e-11\\ 101.8 1.54e-10\\ 103.6 4.9e-10\\
105.1 1.55e-9\\ 106.4 1.33e-9\\ 107.7 1.79e-10\\ 109.3 1.09e-10\\ 112.2 8.45e-11\\ 115.3 1.2e-10\\ 117.3 2.3e-10\\ 119.0 2.96e-10\\
120.5 1.2e-10\\ 125.6 5.6e-11\\ 129.6 9e-11\\ 133.8 5.3e-11\\ 138.2 8.5e-11\\ 142.7 5.6e-11\\ 147.3 9e-11\\ 152.1 5.4e-11\\
157.0 8.8e-11\\ 162.1 5.3e-11\\ 167.4 9e-11\\ 172.8 5.6e-11\\ 178.4 8.5e-11\\ 184.2 5.4e-11\\ 190.2 9e-11\\ 196.3 5.5e-11\\
200 8e-11\\
}\Vbband

% V3, 43.8 - 200 Hz
\pgfplotstableread[row sep=\\]{
f v\\
43.82 1.19e-9\\ 45.0 9.0e-10\\ 46.22 6.85e-10\\ 47.05 6.3e-10\\ 47.9 1.8e-9\\ 48.7 2.43e-9\\ 49.6 8.1e-10\\ 50.2 5.15e-9\\
51.1 2.43e-9\\ 51.9 4.2e-10\\ 52.6 1.33e-9\\ 53.3 6.3e-10\\ 53.7 3.63e-9\\ 54.5 1.47e-9\\ 55.2 8.1e-10\\ 55.9 2.2e-9\\
56.7 3.63e-9\\ 57.7 8.1e-10\\ 58.5 4.0e-9\\ 59.3 5.4e-10\\ 60.3 1.33e-9\\ 61.1 8.95e-9\\ 61.9 3.63e-9\\ 62.5 5.42e-9\\
63.3 8.1e-10\\ 64.2 4.4e-10\\ 65.3 5.98e-9\\ 65.9 1.33e-9\\ 66.7 4.4e-10\\ 67.9 3.8e-10\\ 68.6 9.9e-10\\ 69.5 2.42e-10\\
70.4 1.79e-10\\ 71.6 2.96e-10\\ 72.7 1.33e-10\\ 73.7 4.9e-10\\ 75.3 1.2e-10\\ 76.6 5.1e-10\\ 78.0 9.8e-11\\ 79.1 2.3e-10\\
80.8 7.6e-11\\ 83.0 1.4e-10\\ 84.9 7.3e-11\\ 87.1 1.2e-10\\ 88.3 1.79e-10\\ 90.2 7.6e-11\\ 92.3 1.2e-10\\ 94.8 7.6e-11\\
96.9 1.09e-10\\ 99.1 6.9e-11\\ 100.9 1.09e-10\\ 102.2 6.6e-11\\ 103.6 8.9e-11\\ 105.9 3.27e-10\\ 107.7 1.4e-10\\ 109.3 6.6e-11\\
111.2 8.45e-11\\ 113.2 1.33e-10\\ 115.3 4.9e-10\\ 117.3 6.3e-10\\ 119.0 1.44e-9\\ 120.7 4.9e-10\\ 122.7 1.54e-10\\ 124.9 8.9e-11\\
125.6 1.15e-10\\ 127.6 6.3e-11\\ 129.6 1.1e-10\\ 131.7 6.0e-11\\ 133.8 1.18e-10\\ 136.0 6.5e-11\\ 138.2 1.1e-10\\ 140.4 5.9e-11\\
142.7 1.15e-10\\ 145.0 6.2e-11\\ 147.3 1.12e-10\\ 149.7 6.0e-11\\ 152.1 1.2e-10\\ 154.5 6.4e-11\\ 157.0 1.1e-10\\ 159.5 5.8e-11\\
162.1 1.16e-10\\ 164.7 6.1e-11\\ 167.4 1.12e-10\\ 170.1 6.0e-11\\ 172.8 1.18e-10\\ 175.6 6.2e-11\\ 178.4 1.1e-10\\ 181.3 5.9e-11\\
184.2 1.15e-10\\ 187.2 6.3e-11\\ 190.2 1.12e-10\\ 193.2 6.0e-11\\ 196.3 1.17e-10\\ 199.5 6.1e-11\\ 200 1.0e-10\\
}\Vcband

\pgfplotstableread[row sep=\\]{
f v\\ 0.01 1.25e-9\\ 0.1 2.5e-10\\ 0.7 1.0e-10\\ 100 1.0e-10\\
}\ADEa
\pgfplotstableread[row sep=\\]{
f v\\ 0.01 5.0e-9\\ 0.1 1.0e-9\\ 0.7 4.0e-10\\ 100 4.0e-10\\
}\ADEb

\begin{document}
\begin{tikzpicture}
\path[use as bounding box] (0,0) rectangle (720pt,480pt);
\begin{axis}[
  at={(90pt,52.8pt)}, anchor=south west,
  scale only axis, width=558.6pt, height=369.75pt,
  xmode=log, ymode=log,
  xmin=0.01, xmax=200, ymin=7.42e-12, ymax=7.58e-6,
  grid=both,
  major grid style={draw=gridc, line width=0.3pt},
  minor grid style={draw=gridc, line width=0.3pt},
  tick pos=left, tick align=outside,
  major tick length=1.2pt, minor tick length=0.7pt,
  tick style={black, line width=0.3pt},
  axis line style={line width=0.45pt},
  ticklabel style={font=\fontsize{4}{5}\selectfont},
  xticklabel={\pgfmathtruncatemacro\tmpe{round(\tick/2.302585093)}\explabel{\tmpe}},
  yticklabel={\pgfmathtruncatemacro\tmpe{round(\tick/2.302585093)}\explabel{\tmpe}},
  xlabel={Freq (hz)}, ylabel={m/rthz},
  every axis x label/.style={at={(axis description cs:0.4995,-0.0357)}, anchor=center, font=\fontsize{7.35}{9}\selectfont},
  every axis y label/.style={at={(axis description cs:-0.0349,0.4974)}, anchor=center, rotate=90, font=\fontsize{7.35}{9}\selectfont},
  every axis plot/.append style={line width=1.35pt, line join=round},
  legend cell align=left,
  legend image code/.code={\draw[#1, line width=1.3pt] (0pt,0pt) -- (18pt,0pt);},
  legend style={at={(0.9952,0.9882)}, anchor=north east,
    draw=legc, line width=0.35pt, fill=white, fill opacity=0.8, text opacity=1, draw opacity=1,
    rounded corners=1.5pt, inner xsep=3.3pt, inner ysep=2.75pt,
    row sep=4.57pt, column sep=6.9pt,
    font=\fontsize{8.3}{10}\selectfont,
    nodes={inner sep=0pt, text height=6.4pt, text depth=1.9pt}},
]
\addplot[cHa] table[x=f,y=a]{\Hmain}; \addlegendentry{HAM7\_CPSINF\_H1}
\addplot[cHa, forget plot] table[x=f,y=v]{\Haband};
\addplot[cHb] table[x=f,y=b]{\Hmain}; \addlegendentry{HAM7\_CPSINF\_H2}
\addplot[cHb, forget plot] table[x=f,y=v]{\Hbband};
\addplot[cHc] table[x=f,y=c]{\Hmain}; \addlegendentry{HAM7\_CPSINF\_H3}
\addplot[cHc, forget plot] table[x=f,y=v]{\Hcband};
\addplot[cVa] table[x=f,y=c]{\Vmain}; \addlegendentry{HAM7\_CPSINF\_V1}
\addplot[cVa, forget plot] table[x=f,y=v]{\Vaband};
\addplot[cVb] table[x=f,y=b]{\Vmain}; \addlegendentry{HAM7\_CPSINF\_V2}
\addplot[cVb, forget plot] table[x=f,y=v]{\Vbband};
\addplot[cVc] table[x=f,y=c]{\Vmain}; \addlegendentry{HAM7\_CPSINF\_V3}
\addplot[cVc, forget plot] table[x=f,y=v]{\Vcband};
\addplot[cAa] table[x=f,y=v]{\ADEa}; \addlegendentry{ADE .25mm noise}
\addplot[cAb] table[x=f,y=v]{\ADEb}; \addlegendentry{ADE 1mm noise}
\end{axis}
\node[anchor=base, font=\fontsize{10.74}{12}\selectfont] at (357.9pt,462.3pt) {HAM7 CPS Spectra};
\node[anchor=base, font=\fontsize{10.74}{12}\selectfont] at (361.8pt,450.6pt) {1364724000 to 1364724600};
\node[rotate=90, font=\bfseries\fontsize{4.45}{5}\selectfont] at (687pt,365.7pt) {/opt/rtcds/userapps/trunk/sys/h1/scripts/HAM\_cps\_spectra.py};
\node[font=\bfseries\fontsize{4.4}{5}\selectfont] at (366.7pt,26.4pt) {calibration only >10hz};
\end{tikzpicture}
\end{document}
